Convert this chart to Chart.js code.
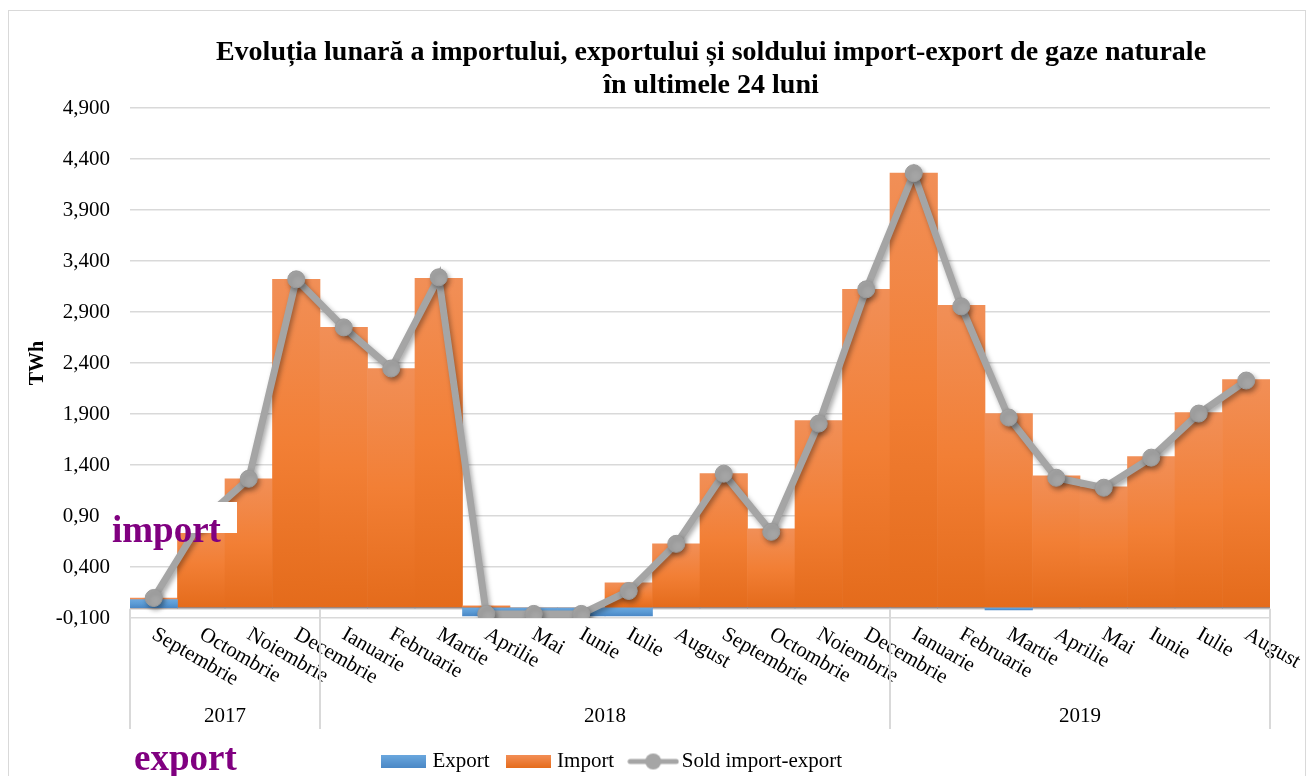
<!DOCTYPE html>
<html>
<head>
<meta charset="utf-8">
<script src="https://cdn.jsdelivr.net/npm/chart.js@4.4.1/dist/chart.umd.min.js"></script>
<style>
    html, body { margin: 0; padding: 0; background: #fff; }
    #wrap { position: relative; width: 1314px; height: 776px; overflow: hidden; }
    #frame { position: absolute; left: 8px; top: 10px; width: 1298px; height: 800px; border: 1.5px solid #d9d9d9; box-sizing: border-box; }
    #chart { position: absolute; left: 0; top: 0; }
</style>
</head>
<body>
<div id="wrap">
    <div id="frame"></div>
    <canvas id="chart" width="1314" height="776"></canvas>
</div>
<script>
// Luni (Sep 2017 - Aug 2019)
const months = ['Septembrie', 'Octombrie', 'Noiembrie', 'Decembrie',
    'Ianuarie', 'Februarie', 'Martie', 'Aprilie', 'Mai', 'Iunie', 'Iulie', 'August',
    'Septembrie', 'Octombrie', 'Noiembrie', 'Decembrie',
    'Ianuarie', 'Februarie', 'Martie', 'Aprilie', 'Mai', 'Iunie', 'Iulie', 'August'];
const yearLabels = ['2017', '2018', '2019'];
const yearSpans = [4, 12, 8];

// TWh
const importValues = [0.096, 0.86, 1.265, 3.220, 2.749, 2.346, 3.230, 0.02, 0, 0, 0.244, 0.627,
    1.315, 0.774, 1.835, 3.122, 4.261, 2.965, 1.904, 1.295, 1.187, 1.482, 1.914, 2.238];
const exportValues = [0.08, 0, 0, 0, 0, 0, 0, -0.08, -0.08, -0.08, -0.08, 0,
    0, 0, 0, 0, 0, 0, -0.02, 0, 0, 0, 0, 0];
const soldValues = [0.096, 0.85, 1.265, 3.220, 2.749, 2.346, 3.240, -0.06, -0.06, -0.06, 0.165, 0.627,
    1.315, 0.745, 1.806, 3.122, 4.261, 2.955, 1.865, 1.275, 1.177, 1.472, 1.904, 2.228];

const yTickValues = [-0.1, 0.4, 0.9, 1.4, 1.9, 2.4, 2.9, 3.4, 3.9, 4.4, 4.9];

const SERIF = '"Liberation Serif", "Times New Roman", serif';
const GREY = '#A5A5A5';

function barGradient(c, values, stops) {
    const chart = c.chart;
    if (!chart.chartArea) return stops[1];
    const y = chart.scales.y;
    const v = values[c.dataIndex];
    const top = y.getPixelForValue(Math.max(v, 0));
    const bottom = y.getPixelForValue(Math.min(v, 0));
    if (Math.abs(bottom - top) < 1) return stops[1];
    const g = chart.ctx.createLinearGradient(0, top, 0, bottom);
    g.addColorStop(0, stops[0]);
    g.addColorStop(0.5, stops[1]);
    g.addColorStop(1, stops[2]);
    return g;
}

// legend symbols
function legendBox(color1, color2) {
    const cv = document.createElement('canvas');
    cv.width = 45; cv.height = 13;
    const c = cv.getContext('2d');
    const g = c.createLinearGradient(0, 0, 0, 13);
    g.addColorStop(0, color1);
    g.addColorStop(1, color2);
    c.fillStyle = g;
    c.fillRect(0, 0, 45, 13);
    return cv;
}
function legendLine() {
    const cv = document.createElement('canvas');
    cv.width = 52; cv.height = 18;
    const c = cv.getContext('2d');
    c.strokeStyle = GREY;
    c.lineWidth = 5;
    c.lineCap = 'round';
    c.beginPath(); c.moveTo(3, 9); c.lineTo(49, 9); c.stroke();
    c.fillStyle = GREY;
    c.beginPath(); c.arc(26, 9, 8, 0, Math.PI * 2); c.fill();
    return cv;
}
const legendSymbols = [legendBox('#6AA7DE', '#4A88C6'), legendBox('#F38E55', '#E56C1C'), legendLine()];

const decorPlugin = {
    id: 'decor',
    afterLayout(chart) {
        // nudge the legend to where the original sits
        const lg = chart.legend;
        lg.left -= 21; lg.right -= 21;
        lg.top += 6; lg.bottom += 6;
    },
    beforeDatasetsDraw(chart) {
        const { ctx, chartArea, scales: { y } } = chart;
        const zero = y.getPixelForValue(0);
        ctx.save();
        ctx.strokeStyle = '#d9d9d9';
        ctx.lineWidth = 2;
        ctx.beginPath();
        ctx.moveTo(chartArea.left, zero + 1);
        ctx.lineTo(chartArea.right, zero + 1);
        ctx.stroke();
        ctx.restore();
    },
    beforeDatasetDraw(chart, args) {
        const ctx = chart.ctx;
        ctx.save();
        if (chart.data.datasets[args.index].type === 'line') {
            ctx.shadowColor = 'rgba(0,0,0,0.35)';
            ctx.shadowBlur = 5;
            ctx.shadowOffsetX = 2;
            ctx.shadowOffsetY = 3;
        }
    },
    afterDatasetDraw(chart) {
        chart.ctx.restore();
    },
    afterDraw(chart) {
        const { ctx, chartArea, scales: { x, y } } = chart;
        const zero = y.getPixelForValue(0);

        // month labels, rotated clockwise
        ctx.save();
        ctx.font = '21px ' + SERIF;
        ctx.fillStyle = '#000';
        ctx.textAlign = 'left';
        ctx.textBaseline = 'top';
        months.forEach((m, i) => {
            ctx.save();
            ctx.translate(x.getPixelForValue(i) + 5, chartArea.bottom + 6);
            ctx.rotate(30 * Math.PI / 180);
            ctx.fillText(m, 0, 0);
            ctx.restore();
        });

        // year groups
        const half = (x.getPixelForValue(1) - x.getPixelForValue(0)) / 2;
        ctx.font = '21px ' + SERIF;
        ctx.strokeStyle = '#d9d9d9';
        ctx.lineWidth = 2;
        ctx.textAlign = 'center';
        ctx.textBaseline = 'middle';
        let start = 0;
        yearLabels.forEach((lbl, k) => {
            const end = start + yearSpans[k] - 1;
            const x0 = x.getPixelForValue(start) - half;
            const x1 = x.getPixelForValue(end) + half;
            ctx.beginPath();
            ctx.moveTo(x0, zero + 1);
            ctx.lineTo(x0, 729);
            ctx.stroke();
            if (k === yearLabels.length - 1) {
                ctx.beginPath();
                ctx.moveTo(x1, zero + 1);
                ctx.lineTo(x1, 729);
                ctx.stroke();
            }
            ctx.fillText(lbl, (x0 + x1) / 2, 716);
            start = end + 1;
        });
        ctx.restore();

        // title
        ctx.save();
        ctx.font = 'bold 28px ' + SERIF;
        ctx.fillStyle = '#000';
        ctx.textAlign = 'center';
        ctx.textBaseline = 'middle';
        ctx.fillText('Evoluția lunară a importului, exportului și soldului import-export de gaze naturale', 711, 53);
        ctx.fillText('în ultimele 24 luni', 711, 86);
        ctx.restore();

        // white labels
        ctx.save();
        ctx.fillStyle = '#fff';
        ctx.fillRect(100, 502, 137, 31);
        ctx.font = 'bold 37px ' + SERIF;
        ctx.fillStyle = '#800080';
        ctx.textAlign = 'left';
        ctx.textBaseline = 'alphabetic';
        ctx.fillText('import', 112, 542);
        ctx.fillText('export', 134, 770);
        ctx.restore();
    }
};

new Chart(document.getElementById('chart'), {
    data: {
        labels: months,
        datasets: [
            {
                type: 'bar',
                label: 'Export',
                data: exportValues,
                order: 1,
                backgroundColor: c => barGradient(c, exportValues, ['#6AA7DE', '#5B9BD5', '#4A88C6']),
                borderWidth: 0
            },
            {
                type: 'bar',
                label: 'Import',
                data: importValues,
                order: 2,
                backgroundColor: c => barGradient(c, importValues, ['#F18F57', '#F27F35', '#E46B1B']),
                borderWidth: 0
            },
            {
                type: 'line',
                label: 'Sold import-export',
                data: soldValues,
                order: 0,
                borderColor: GREY,
                borderWidth: 7,
                pointRadius: 8.5,
                pointBackgroundColor: GREY,
                pointBorderColor: '#9B9B9B',
                pointBorderWidth: 1,
                tension: 0
            }
        ]
    },
    options: {
        responsive: false,
        animation: false,
        layout: { padding: { top: 108, right: 44, left: 0, bottom: 0 } },
        datasets: {
            bar: { grouped: false, barPercentage: 1, categoryPercentage: 1 }
        },
        plugins: {
            title: { display: false },
            tooltip: { enabled: false },
            legend: {
                position: 'bottom',
                labels: {
                    usePointStyle: true,
                    pointStyleWidth: 36,
                    padding: 21,
                    color: '#000',
                    font: { family: SERIF, size: 21 },
                    generateLabels: chart => chart.data.datasets.map((ds, i) => ({
                        text: ds.label,
                        pointStyle: legendSymbols[i],
                        datasetIndex: i,
                        hidden: false,
                        fillStyle: 'transparent',
                        strokeStyle: 'transparent',
                        lineWidth: 0,
                        fontColor: '#000'
                    }))
                }
            }
        },
        scales: {
            x: {
                type: 'category',
                offset: true,
                grid: { display: false },
                border: { display: false },
                ticks: { display: false },
                afterFit: s => { s.height = 106; }
            },
            y: {
                type: 'linear',
                min: -0.1,
                max: 4.9,
                afterBuildTicks: s => { s.ticks = yTickValues.map(v => ({ value: v })); },
                afterFit: s => { s.width = 130; },
                grid: { color: '#d9d9d9', lineWidth: 1.5, drawTicks: false },
                border: { display: false },
                ticks: {
                    padding: 20,
                    color: '#000',
                    font: { family: SERIF, size: 21 },
                    callback: v => v.toFixed(3).replace('.', ',')
                },
                title: {
                    display: true,
                    text: 'TWh',
                    color: '#000',
                    font: { family: SERIF, size: 20, weight: 'bold' },
                    padding: { top: 26, bottom: 0 }
                }
            }
        }
    },
    plugins: [decorPlugin]
});
</script>
</body>
</html>
